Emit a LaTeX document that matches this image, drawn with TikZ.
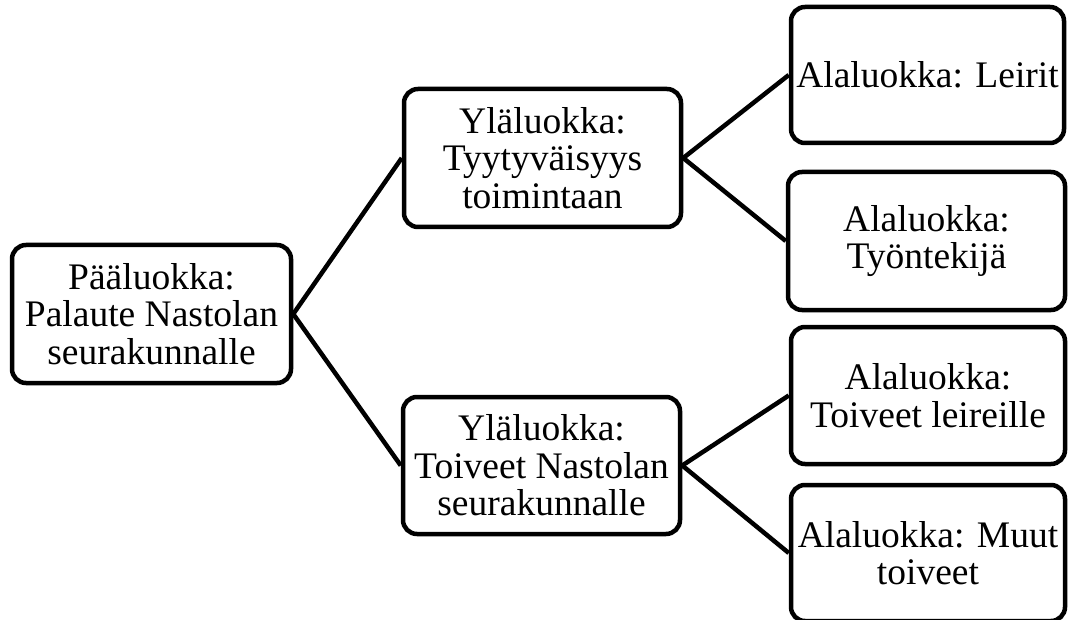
\documentclass[tikz,border=0pt]{standalone}
\usepackage{fontspec}
\setmainfont{Liberation Serif}
\begin{document}
\begin{tikzpicture}[x=1pt,y=-1pt,
  box/.style={draw=black, line width=4.5pt, rounded corners=14pt, fill=white, align=center,
    inner sep=0pt, font=\fontsize{37.5}{37.5}\selectfont},
  link/.style={draw=black, line width=4.5pt}]
\useasboundingbox (0,0) rectangle (1070,620);
\node[box, minimum width=279pt, minimum height=138pt] (root) at (151.5,314) {Pääluokka:\\Palaute Nastolan\\seurakunnalle};
\node[box, minimum width=277pt, minimum height=138pt] (up) at (542.5,158) {Yläluokka:\\Tyytyväisyys\\toimintaan};
\node[box, minimum width=277pt, minimum height=137pt] (lo) at (541.5,465.5) {Yläluokka:\\Toiveet Nastolan\\seurakunnalle};
\node[box, minimum width=273pt, minimum height=136pt] (a) at (927.5,75) {Alaluokka: Leirit};
\node[box, minimum width=277pt, minimum height=138pt] (b) at (926.5,241) {Alaluokka:\\Työntekijä};
\node[box, minimum width=274pt, minimum height=137pt] (c) at (928,395.5) {Alaluokka:\\Toiveet leireille};
\node[box, minimum width=274pt, minimum height=136pt] (d) at (928,553) {Alaluokka: Muut\\toiveet};
\draw[link] (root.east) -- (up.west);
\draw[link] (root.east) -- (lo.west);
\draw[link] (up.east) -- (a.west);
\draw[link] (up.east) -- (b.west);
\draw[link] (lo.east) -- (c.west);
\draw[link] (lo.east) -- (d.west);
\end{tikzpicture}
\end{document}
